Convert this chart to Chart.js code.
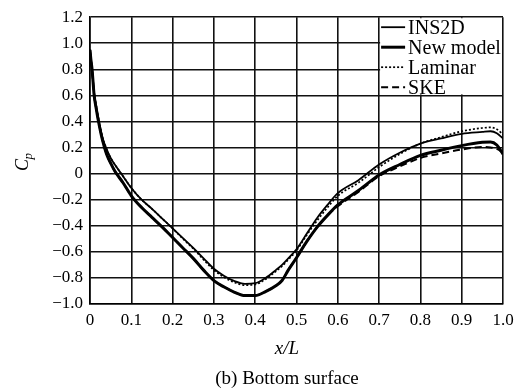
<!DOCTYPE html>
<html>
<head>
<meta charset="utf-8">
<script src="https://cdn.jsdelivr.net/npm/chart.js@4.4.1/dist/chart.umd.min.js"></script>
<style>
  body { margin: 0; background: #fff; }
  #wrap { width: 528px; height: 392px; }
</style>
</head>
<body>
<div id="wrap"><canvas id="cpChart"></canvas></div>
<script>
// x/L stations
var xValues = [0, 0.002, 0.005, 0.01, 0.015, 0.02, 0.03, 0.04, 0.05, 0.06, 0.08, 0.1,
  0.125, 0.15, 0.175, 0.2, 0.225, 0.25, 0.275, 0.3, 0.325, 0.35, 0.375, 0.4, 0.425,
  0.45, 0.465, 0.48, 0.5, 0.525, 0.55, 0.575, 0.6, 0.65, 0.7, 0.75, 0.8, 0.85, 0.9,
  0.95, 0.97, 0.985, 1.0];

var ins2d = [0.95, 0.88, 0.8, 0.62, 0.52, 0.43, 0.28, 0.19, 0.12, 0.07, -0.02, -0.11,
  -0.2, -0.27, -0.345, -0.42, -0.495, -0.57, -0.65, -0.73, -0.785, -0.825, -0.845, -0.84, -0.8,
  -0.74, -0.7, -0.65, -0.58, -0.46, -0.34, -0.24, -0.15, -0.05, 0.07, 0.16, 0.23, 0.27, 0.305,
  0.32, 0.325, 0.31, 0.27];

var newModel = [0.95, 0.88, 0.8, 0.6, 0.5, 0.41, 0.26, 0.15, 0.08, 0.02, -0.07, -0.17,
  -0.26, -0.335, -0.41, -0.49, -0.57, -0.65, -0.74, -0.82, -0.87, -0.91, -0.935, -0.935, -0.905,
  -0.86, -0.82, -0.74, -0.645, -0.52, -0.41, -0.32, -0.24, -0.13, -0.01, 0.07, 0.14, 0.18, 0.215,
  0.24, 0.243, 0.22, 0.15];

var laminar = [0.95, 0.88, 0.8, 0.62, 0.52, 0.43, 0.28, 0.19, 0.12, 0.07, -0.02, -0.11,
  -0.2, -0.27, -0.345, -0.42, -0.5, -0.575, -0.66, -0.74, -0.795, -0.835, -0.855, -0.85, -0.81,
  -0.75, -0.71, -0.66, -0.59, -0.47, -0.36, -0.26, -0.17, -0.07, 0.05, 0.15, 0.23, 0.28, 0.325,
  0.35, 0.355, 0.34, 0.3];

var ske = [0.95, 0.88, 0.8, 0.6, 0.5, 0.41, 0.26, 0.15, 0.08, 0.02, -0.07, -0.17,
  -0.26, -0.335, -0.41, -0.49, -0.57, -0.65, -0.74, -0.82, -0.87, -0.91, -0.935, -0.935, -0.905,
  -0.86, -0.82, -0.74, -0.645, -0.52, -0.41, -0.32, -0.25, -0.14, -0.02, 0.055, 0.12, 0.155, 0.185,
  0.205, 0.2, 0.19, 0.16];

var seriesNames = ["INS2D", "New model", "Laminar", "SKE"];
var xTickLabels = ["0", "0.1", "0.2", "0.3", "0.4", "0.5", "0.6", "0.7", "0.8", "0.9", "1.0"];
var yTickLabels = ["\u22121.0", "\u22120.8", "\u22120.6", "\u22120.4", "\u22120.2", "0",
  "0.2", "0.4", "0.6", "0.8", "1.0", "1.2"];
var xTitle = "x/L";
var yTitle = ["C", "p"];
var caption = "(b) Bottom surface";

var serif = "'Liberation Serif', 'Times New Roman', serif";

function toPoints(ys) {
  return xValues.map(function(x, i) { return {x: x, y: ys[i]}; });
}

var styles = [
  {width: 1.8, dash: []},
  {width: 3, dash: []},
  {width: 1.7, dash: [2, 2]},
  {width: 2, dash: [7, 4]}
];

var datasets = [ins2d, newModel, laminar, ske].map(function(ys, i) {
  return {
    label: seriesNames[i],
    data: toPoints(ys),
    borderColor: "#000",
    borderWidth: styles[i].width,
    borderDash: styles[i].dash,
    pointRadius: 0,
    showLine: true,
    fill: false,
    cubicInterpolationMode: "monotone"
  };
});

// legend box in the upper right corner + axis texts
var extras = {
  id: "extras",
  beforeDatasetsDraw: function(chart) {
    var ctx = chart.ctx;
    var area = chart.chartArea;
    var xs = chart.scales.x, ys = chart.scales.y;
    var left = xs.getPixelForValue(0.7);
    var bottom = ys.getPixelForValue(0.6);
    ctx.save();
    ctx.fillStyle = "#fff";
    ctx.fillRect(left + 1, area.top + 1, area.right - left - 2, bottom - area.top - 2);
    ctx.strokeStyle = "#000";
    ctx.fillStyle = "#000";
    ctx.font = "20px " + serif;
    ctx.textBaseline = "alphabetic";
    ctx.textAlign = "left";
    chart.data.datasets.forEach(function(ds, i) {
      var y = area.top + 10 + i * 20;
      ctx.lineWidth = ds.borderWidth;
      ctx.setLineDash(ds.borderDash);
      ctx.beginPath();
      ctx.moveTo(left + 2, y);
      ctx.lineTo(left + 26, y);
      ctx.stroke();
      ctx.fillText(ds.label, left + 29, y + 7);
    });
    ctx.restore();
  },
  afterDraw: function(chart) {
    var ctx = chart.ctx;
    ctx.save();
    ctx.fillStyle = "#000";
    ctx.textAlign = "center";
    ctx.font = "italic 19px " + serif;
    ctx.fillText(xTitle, 287, 354);
    ctx.font = "19px " + serif;
    ctx.fillText(caption, 287, 384);
    // rotated C_p
    ctx.translate(28, 171);
    ctx.rotate(-Math.PI / 2);
    ctx.textAlign = "left";
    ctx.font = "italic 18px " + serif;
    ctx.fillText(yTitle[0], 0, 0);
    var w = ctx.measureText(yTitle[0]).width;
    ctx.font = "italic 13px " + serif;
    ctx.fillText(yTitle[1], w - 0.5, 4);
    ctx.restore();
  }
};

new Chart("cpChart", {
  type: "scatter",
  data: {datasets: datasets},
  options: {
    responsive: true,
    maintainAspectRatio: false,
    animation: false,
    layout: {padding: {left: 0, right: 25, top: 15, bottom: 0}},
    plugins: {
      legend: {display: false},
      tooltip: {enabled: false}
    },
    scales: {
      x: {
        type: "linear",
        min: 0,
        max: 1,
        afterFit: function(scale) { scale.height = 88; },
        ticks: {
          stepSize: 0.1,
          padding: 6,
          color: "#000",
          font: {family: serif, size: 17},
          maxRotation: 0,
          callback: function(v) { return xTickLabels[Math.round(v * 10)]; }
        },
        grid: {color: "#111", lineWidth: 1.6, drawTicks: false},
        border: {display: true, color: "#000", width: 1.6}
      },
      y: {
        type: "linear",
        min: -1,
        max: 1.2,
        afterFit: function(scale) { scale.width = 90; },
        ticks: {
          stepSize: 0.2,
          padding: 7,
          color: "#000",
          font: {family: serif, size: 17},
          callback: function(v) { return yTickLabels[Math.round((v + 1) * 5)]; }
        },
        grid: {color: "#111", lineWidth: 1.6, drawTicks: false},
        border: {display: true, color: "#000", width: 1.6}
      }
    }
  },
  plugins: [extras]
});
</script>
</body>
</html>
